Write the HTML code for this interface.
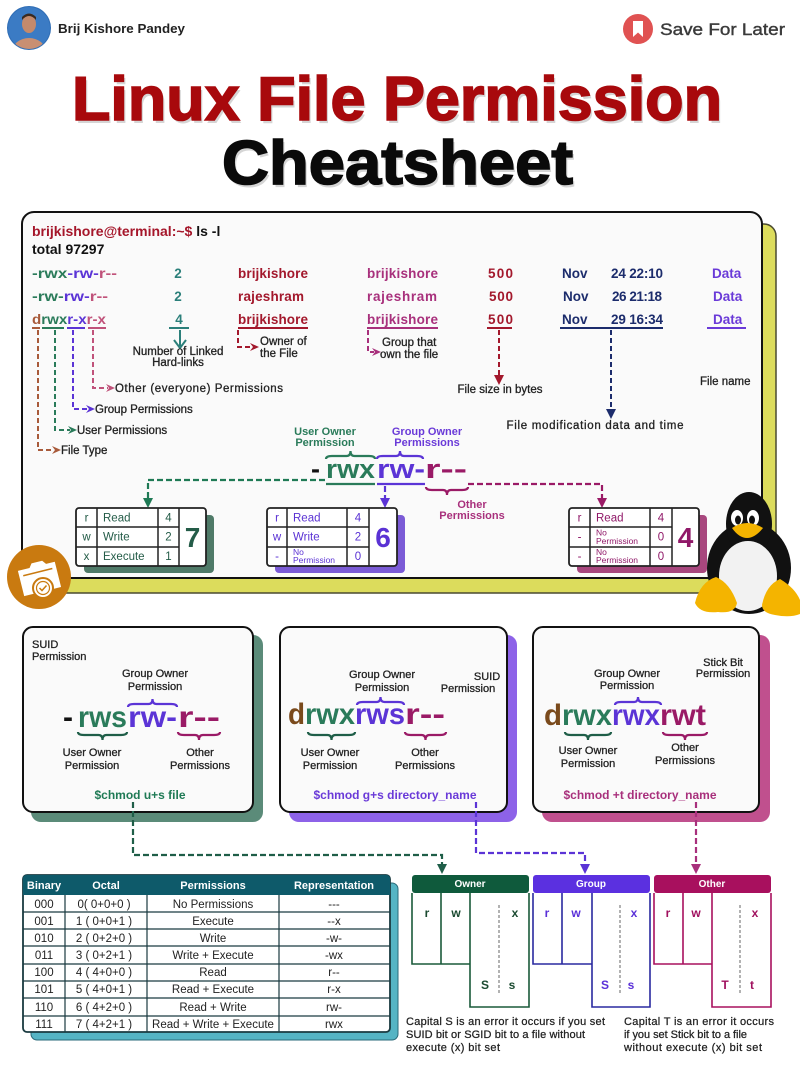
<!DOCTYPE html>
<html><head><meta charset="utf-8"><style>html,body{margin:0;padding:0;background:#fff}svg{display:block}</style></head>
<body>
<svg width="800" height="1067" viewBox="0 0 800 1067" xmlns="http://www.w3.org/2000/svg" font-family="'Liberation Sans', sans-serif">
<rect width="800" height="1067" fill="#ffffff"/>

<!-- Header -->
<circle cx="29" cy="28" r="22" fill="#2f6db5"/>
<clipPath id="av"><circle cx="29" cy="28" r="21"/></clipPath>
<g clip-path="url(#av)">
<rect x="7" y="6" width="44" height="44" fill="#3b7bc4"/>
<ellipse cx="29" cy="52" rx="17" ry="14" fill="#c98f72"/>
<ellipse cx="29" cy="24" rx="7" ry="9" fill="#c48a6c"/>
<path d="M22 20 Q29 12 36 20 L36 17 Q29 10 22 17 Z" fill="#3a2a20"/>
</g>
<text x="58" y="33" font-size="13" font-weight="bold" fill="#222" textLength="127" lengthAdjust="spacingAndGlyphs">Brij Kishore Pandey</text>
<circle cx="638" cy="29" r="15" fill="#e05252"/>
<path d="M633 21 H643 V37 L638 32.5 L633 37 Z" fill="#fff"/>
<text x="660" y="35" font-size="17" fill="#3a3a3a" stroke="#3a3a3a" stroke-width="0.4" textLength="125" lengthAdjust="spacingAndGlyphs">Save For Later</text>

<!-- Title -->
<text x="74" y="123" font-size="62" font-weight="bold" fill="#888" opacity="0.35" textLength="650" lengthAdjust="spacingAndGlyphs">Linux File Permission</text>
<text x="72" y="120" font-size="62" font-weight="bold" fill="#a8090c" stroke="#a8090c" stroke-width="1.6" textLength="650" lengthAdjust="spacingAndGlyphs">Linux File Permission</text>
<text x="224" y="187" font-size="62" font-weight="bold" fill="#888" opacity="0.35" textLength="351" lengthAdjust="spacingAndGlyphs">Cheatsheet</text>
<text x="222" y="184" font-size="62" font-weight="bold" fill="#0a0a0a" stroke="#0a0a0a" stroke-width="1.6" textLength="351" lengthAdjust="spacingAndGlyphs">Cheatsheet</text>

<!-- Terminal box -->
<rect x="34" y="224" width="742" height="369" rx="12" fill="#dcdc5c" stroke="#4a4a30" stroke-width="1.5"/>
<rect x="22" y="212" width="740" height="366" rx="12" fill="#fafafa" stroke="#111" stroke-width="2"/>

<text x="32" y="236" font-size="14" font-weight="bold" fill="#a5162a">brijkishore@terminal:~$ <tspan fill="#111">ls -l</tspan></text>
<text x="32" y="254" font-size="14" font-weight="bold" fill="#111">total 97297</text>

<g font-size="13.5" font-weight="bold">
<text x="32" y="278" textLength="85" lengthAdjust="spacingAndGlyphs"><tspan fill="#2a7b5a">-rwx</tspan><tspan fill="#5b34d6">-rw-</tspan><tspan fill="#c0527a">r--</tspan></text>
<text x="32" y="301" textLength="76" lengthAdjust="spacingAndGlyphs"><tspan fill="#2a7b5a">-rw-</tspan><tspan fill="#5b34d6">rw-</tspan><tspan fill="#c0527a">r--</tspan></text>
<text x="32" y="324" textLength="74" lengthAdjust="spacingAndGlyphs"><tspan fill="#a85a3a">d</tspan><tspan fill="#2a7b5a">rwx</tspan><tspan fill="#5b34d6">r-x</tspan><tspan fill="#c0527a">r-x</tspan></text>
<g fill="#2b7f7a" text-anchor="middle"><text x="178" y="278">2</text><text x="178" y="301">2</text><text x="179" y="324">4</text></g>
<g fill="#a3182c"><text x="238" y="278" textLength="70">brijkishore</text><text x="238" y="301" textLength="66">rajeshram</text><text x="238" y="324" textLength="70">brijkishore</text></g>
<g fill="#a8307c"><text x="367" y="278" textLength="71">brijkishore</text><text x="367" y="301" textLength="70">rajeshram</text><text x="367" y="324" textLength="71">brijkishore</text></g>
<g fill="#a3182c"><text x="488" y="278" textLength="25">500</text><text x="489" y="301" textLength="24">500</text><text x="488" y="324" textLength="25">500</text></g>
<g fill="#1c2c6c"><text x="562" y="278">Nov</text><text x="563" y="301">Nov</text><text x="562" y="324">Nov</text>
<text x="611" y="278" textLength="52">24 22:10</text><text x="612" y="301" textLength="50">26 21:18</text><text x="611" y="324" textLength="52">29 16:34</text></g>
<g fill="#6a3ad8"><text x="712" y="278">Data</text><text x="713" y="301">Data</text><text x="713" y="324">Data</text></g>
</g>

<!-- underlines -->
<g stroke-width="2" fill="none">
<path d="M32 328 H40" stroke="#a85a3a"/>
<path d="M42 328 H64" stroke="#2a7b5a"/>
<path d="M67 328 H85" stroke="#5b34d6"/>
<path d="M88 328 H106" stroke="#c0527a"/>
<path d="M169 328 H189" stroke="#2b7f7a"/>
<path d="M238 328 H308" stroke="#a3182c"/>
<path d="M367 328 H438" stroke="#a8307c"/>
<path d="M487 328 H512" stroke="#a3182c"/>
<path d="M560 328 H663" stroke="#1c2c6c"/>
<path d="M707 328 H746" stroke="#6a3ad8"/>
</g>
<!-- dashed connectors -->
<g stroke-width="2" fill="none" stroke-dasharray="5 3">
<path d="M38 330 V450 H54" stroke="#a85a3a"/>
<path d="M55 330 V430 H70" stroke="#2a7b5a"/>
<path d="M73 330 V409 H88" stroke="#5b34d6"/>
<path d="M93 330 V388 H108" stroke="#c0527a"/>
<path d="M238 330 V347 H252" stroke="#a3182c"/>
<path d="M368 330 V352 H374" stroke="#a8307c"/>
<path d="M499 330 V376" stroke="#a3182c"/>
<path d="M611 330 V410" stroke="#1c2c6c"/>
</g>
<path d="M180 330 V346" stroke="#2b7f7a" stroke-width="2"/>
<path d="M174 340 L180 348 L186 340" stroke="#2b7f7a" stroke-width="2" fill="none"/>
<polygon points="52,446 61,450 52,454 55,450" fill="#a85a3a"/>
<polygon points="68,426 77,430 68,434 71,430" fill="#2a7b5a"/>
<polygon points="86,405 95,409 86,413 89,409" fill="#5b34d6"/>
<polygon points="106,384 115,388 106,392 109,388" fill="#c0527a"/>
<polygon points="250,343 259,347 250,351 253,347" fill="#a3182c"/>
<polygon points="372,348 381,352 372,356 375,352" fill="#a8307c"/>
<polygon points="494,375 504,375 499,385" fill="#a3182c"/>
<polygon points="606,409 616,409 611,419" fill="#1c2c6c"/>

<g font-size="11.5" fill="#222" stroke="#222" stroke-width="0.3">
<text x="61" y="454">File Type</text>
<text x="77" y="434">User Permissions</text>
<text x="95" y="413">Group Permissions</text>
<text x="115" y="392" textLength="168">Other (everyone) Permissions</text>
<text x="178" y="355" text-anchor="middle">Number of Linked</text>
<text x="178" y="366" text-anchor="middle">Hard-links</text>
<text x="260" y="345">Owner of</text>
<text x="260" y="357">the File</text>
<text x="382" y="346">Group that</text>
<text x="380" y="358">own the file</text>
<text x="500" y="393" text-anchor="middle">File size in bytes</text>
<text x="595" y="429" text-anchor="middle" textLength="177">File modification data and time</text>
<text x="700" y="385">File name</text>
</g>

<!-- big -rwxrw-r-- -->
<g font-size="11" font-weight="bold" text-anchor="middle">
<text x="325" y="435" fill="#2a7b5a">User Owner</text>
<text x="325" y="446" fill="#2a7b5a">Permission</text>
<text x="427" y="435" fill="#6a3ad8">Group Owner</text>
<text x="427" y="446" fill="#6a3ad8">Permissions</text>
<text x="472" y="508" fill="#a8307c">Other</text>
<text x="472" y="519" fill="#a8307c">Permissions</text>
</g>
<g font-size="27" font-weight="bold">
<text x="311" y="478" fill="#111">-</text>
<text x="326" y="478" fill="#2a7b5a" textLength="49" lengthAdjust="spacingAndGlyphs">rwx</text>
<text x="377" y="478" fill="#5b34d6" textLength="48" lengthAdjust="spacingAndGlyphs">rw-</text>
<text x="425" y="478" fill="#9a1a66" textLength="42" lengthAdjust="spacingAndGlyphs">r--</text>
</g>
<g fill="none" stroke-width="2.2">
<path d="M326 459 Q326 456 332 456 H346.5 Q350.5 456 350.5 451 Q350.5 456 354.5 456 H369 Q375 456 375 459" stroke="#2a7b5a"/>
<path d="M377 459 Q377 456 383 456 H396 Q400 456 400 451 Q400 456 404 456 H417 Q423 456 423 459" stroke="#5b34d6"/>
<path d="M426 487 Q426 490 432 490 H443 Q447 490 447 495 Q447 490 451 490 H462 Q468 490 468 487" stroke="#9a1a66"/>
<path d="M326 484 H375" stroke="#2a7b5a"/>
<path d="M377 484 H425" stroke="#5b34d6"/>
</g>
<g fill="none" stroke-width="2.2" stroke-dasharray="6 3">
<path d="M325 480 H148 V499" stroke="#1f7a55"/>
<path d="M385 486 V499" stroke="#5b34d6"/>
<path d="M468 484 H602 V499" stroke="#9a1a66"/>
</g>
<polygon points="143,498 153,498 148,508" fill="#1f7a55"/>
<polygon points="380,498 390,498 385,508" fill="#5b34d6"/>
<polygon points="597,498 607,498 602,508" fill="#9a1a66"/>

<!-- small tables -->
<rect x="84" y="515" width="130" height="58" rx="4" fill="#4f7a68"/>
<rect x="76" y="508" width="130" height="58" rx="3" fill="#fff" stroke="#222" stroke-width="1.8"/>
<path d="M97 508 V566 M158 508 V566 M179 508 V566 M76 527 H179 M76 547 H179" stroke="#222" stroke-width="1.5"/>
<g fill="#245c48" font-size="11.5">
<text x="86.5" y="521.5" text-anchor="middle">r</text><text x="86.5" y="540.5" text-anchor="middle">w</text><text x="86.5" y="560" text-anchor="middle">x</text>
<text x="103" y="521.5">Read</text><text x="103" y="540.5">Write</text><text x="103" y="560">Execute</text>
<text x="168.5" y="521.5" text-anchor="middle">4</text><text x="168.5" y="540.5" text-anchor="middle">2</text><text x="168.5" y="560" text-anchor="middle">1</text>
<text x="192.5" y="547" text-anchor="middle" font-size="28" font-weight="bold">7</text>
</g>

<rect x="275" y="515" width="130" height="58" rx="4" fill="#7b5bd6"/>
<rect x="267" y="508" width="130" height="58" rx="3" fill="#fff" stroke="#222" stroke-width="1.8"/>
<path d="M287 508 V566 M347 508 V566 M369 508 V566 M267 527 H369 M267 547 H369" stroke="#222" stroke-width="1.5"/>
<g fill="#5a32d4" font-size="11.5">
<text x="277" y="521.5" text-anchor="middle">r</text><text x="277" y="540.5" text-anchor="middle">w</text><text x="277" y="560" text-anchor="middle">-</text>
<text x="293" y="521.5">Read</text><text x="293" y="540.5">Write</text>
<text x="293" y="555" font-size="8.5">No</text><text x="293" y="563" font-size="8.5">Permission</text>
<text x="358" y="521.5" text-anchor="middle">4</text><text x="358" y="540.5" text-anchor="middle">2</text><text x="358" y="560" text-anchor="middle">0</text>
<text x="383" y="547" text-anchor="middle" font-size="28" font-weight="bold">6</text>
</g>

<rect x="577" y="515" width="130" height="58" rx="4" fill="#a8477e"/>
<rect x="569" y="508" width="130" height="58" rx="3" fill="#fff" stroke="#222" stroke-width="1.8"/>
<path d="M590 508 V566 M650 508 V566 M672 508 V566 M569 527 H672 M569 547 H672" stroke="#222" stroke-width="1.5"/>
<g fill="#901868" font-size="11.5">
<text x="579.5" y="521.5" text-anchor="middle">r</text><text x="579.5" y="540.5" text-anchor="middle">-</text><text x="579.5" y="560" text-anchor="middle">-</text>
<text x="596" y="521.5">Read</text>
<text x="596" y="535.5" font-size="8.5">No</text><text x="596" y="544" font-size="8.5">Permission</text>
<text x="596" y="555" font-size="8.5">No</text><text x="596" y="563" font-size="8.5">Permission</text>
<text x="661" y="521.5" text-anchor="middle">4</text><text x="661" y="540.5" text-anchor="middle">0</text><text x="661" y="560" text-anchor="middle">0</text>
<text x="685.5" y="547" text-anchor="middle" font-size="28" font-weight="bold">4</text>
</g>

<!-- camera icon -->
<circle cx="39" cy="577" r="32" fill="#c97a10"/>
<g transform="rotate(-14 39 577)">
<path d="M20 566 H32 L35 562 H46 L49 566 H58 V592 H20 Z" fill="#fff"/>
<path d="M24 572 H54" stroke="#c97a10" stroke-width="1.5"/>
</g>
<circle cx="43" cy="588" r="10" fill="#fff" stroke="#c97a10" stroke-width="2"/>
<circle cx="43" cy="588" r="6.5" fill="none" stroke="#c97a10" stroke-width="1.2"/>
<path d="M39.5 588 L42 590.5 L46.5 585.5" fill="none" stroke="#c97a10" stroke-width="1.5"/>

<!-- penguin -->
<ellipse cx="749" cy="568" rx="42" ry="46" fill="#111"/>
<ellipse cx="749" cy="524" rx="23" ry="32" fill="#111"/>
<ellipse cx="748" cy="576" rx="29" ry="35" fill="#f2f2f2"/>
<ellipse cx="737" cy="518" rx="6" ry="8" fill="#fff"/>
<ellipse cx="753" cy="518" rx="6" ry="8" fill="#fff"/>
<ellipse cx="738" cy="520" rx="3" ry="4.5" fill="#111"/>
<ellipse cx="752" cy="520" rx="3" ry="4.5" fill="#111"/>
<path d="M732 528 Q747 518 763 528 Q755 538 747 538 Q739 538 732 528 Z" fill="#f4b400"/>
<path d="M695 603 Q700 582 716 577 Q730 583 737 603 Q735 614 718 612 Q700 614 695 603 Z" fill="#f4b400"/>
<path d="M762 605 Q766 585 780 579 Q795 588 800 600 V614 Q790 618 775 615 Q762 613 762 605 Z" fill="#f4b400"/>

<!-- panels -->
<rect x="31" y="635" width="232" height="187" rx="10" fill="#5b8b79"/>
<rect x="23" y="627" width="230" height="185" rx="10" fill="#fafafa" stroke="#111" stroke-width="2"/>
<rect x="289" y="635" width="228" height="187" rx="10" fill="#8d62e8"/>
<rect x="280" y="627" width="227" height="185" rx="10" fill="#fafafa" stroke="#111" stroke-width="2"/>
<rect x="542" y="635" width="228" height="187" rx="10" fill="#c0508e"/>
<rect x="533" y="627" width="226" height="185" rx="10" fill="#fafafa" stroke="#111" stroke-width="2"/>

<g font-size="11" fill="#222" stroke="#222" stroke-width="0.3">
<text x="32" y="648">SUID</text><text x="32" y="660">Permission</text>
<g text-anchor="middle">
<text x="155" y="677">Group Owner</text><text x="155" y="690">Permission</text>
<text x="92" y="756">User Owner</text><text x="92" y="769">Permission</text>
<text x="200" y="756">Other</text><text x="200" y="769">Permissions</text>

<text x="382" y="678">Group Owner</text><text x="382" y="691">Permission</text>
<text x="487" y="680">SUID</text><text x="468" y="692">Permission</text>
<text x="330" y="756">User Owner</text><text x="330" y="769">Permission</text>
<text x="425" y="756">Other</text><text x="425" y="769">Permissions</text>

<text x="723" y="666">Stick Bit</text><text x="723" y="677">Permission</text>
<text x="627" y="677">Group Owner</text><text x="627" y="689">Permission</text>
<text x="588" y="754">User Owner</text><text x="588" y="767">Permission</text>
<text x="685" y="751">Other</text><text x="685" y="764">Permissions</text>
</g>
</g>

<g font-size="30" font-weight="bold">
<text x="63" y="727" fill="#111">-</text>
<text x="78" y="727" fill="#2a7b5a" textLength="49" lengthAdjust="spacingAndGlyphs">rws</text>
<text x="128" y="727" fill="#5b34d6" textLength="49" lengthAdjust="spacingAndGlyphs">rw-</text>
<text x="178" y="727" fill="#9a1a66" textLength="42" lengthAdjust="spacingAndGlyphs">r--</text>

<text x="288" y="724" fill="#7a4a1c" textLength="17" lengthAdjust="spacingAndGlyphs">d</text>
<text x="305" y="724" fill="#2a7b5a" textLength="50" lengthAdjust="spacingAndGlyphs">rwx</text>
<text x="355" y="724" fill="#5b34d6" textLength="50" lengthAdjust="spacingAndGlyphs">rws</text>
<text x="405" y="724" fill="#9a1a66" textLength="40" lengthAdjust="spacingAndGlyphs">r--</text>

<text x="544" y="725" fill="#7a4a1c" textLength="18" lengthAdjust="spacingAndGlyphs">d</text>
<text x="562" y="725" fill="#2a7b5a" textLength="50" lengthAdjust="spacingAndGlyphs">rwx</text>
<text x="612" y="725" fill="#5b34d6" textLength="48" lengthAdjust="spacingAndGlyphs">rwx</text>
<text x="660" y="725" fill="#9a1a66" textLength="46" lengthAdjust="spacingAndGlyphs">rwt</text>
</g>

<g fill="none" stroke-width="2.2">
<path d="M128 707 Q128 704 134 704 H148.5 Q152.5 704 152.5 699 Q152.5 704 156.5 704 H171 Q177 704 177 707" stroke="#5b34d6"/>
<path d="M78 732 Q78 735 84 735 H98.5 Q102.5 735 102.5 740 Q102.5 735 106.5 735 H121 Q127 735 127 732" stroke="#1f5e48"/>
<path d="M178 732 Q178 735 184 735 H195 Q199 735 199 740 Q199 735 203 735 H214 Q220 735 220 732" stroke="#9a1a66"/>

<path d="M357 705 Q357 702 363 702 H376.5 Q380.5 702 380.5 697 Q380.5 702 384.5 702 H398 Q404 702 404 705" stroke="#5b34d6"/>
<path d="M308 732 Q308 735 314 735 H327.5 Q331.5 735 331.5 740 Q331.5 735 335.5 735 H349 Q355 735 355 732" stroke="#1f5e48"/>
<path d="M405 732 Q405 735 411 735 H421.5 Q425.5 735 425.5 740 Q425.5 735 429.5 735 H440 Q446 735 446 732" stroke="#9a1a66"/>

<path d="M615 705 Q615 702 621 702 H634 Q638 702 638 697 Q638 702 642 702 H655 Q661 702 661 705" stroke="#5b34d6"/>
<path d="M565 732 Q565 735 571 735 H584 Q588 735 588 740 Q588 735 592 735 H605 Q611 735 611 732" stroke="#1f5e48"/>
<path d="M663 732 Q663 735 669 735 H681 Q685 735 685 740 Q685 735 689 735 H701 Q707 735 707 732" stroke="#9a1a66"/>
</g>

<g font-size="12" font-weight="bold" text-anchor="middle">
<text x="140" y="799" fill="#1f7a55">$chmod u+s file</text>
<text x="395" y="799" fill="#6a3ad8">$chmod g+s directory_name</text>
<text x="640" y="799" fill="#a8307c">$chmod +t directory_name</text>
</g>

<!-- connectors to bottom -->
<g fill="none" stroke-width="2.2" stroke-dasharray="6 3">
<path d="M133 802 V855 H442 V865" stroke="#1f5e48"/>
<path d="M476 802 V853 H585 V865" stroke="#5b34d6"/>
<path d="M696 802 V865" stroke="#a8307c"/>
</g>
<polygon points="437,864 447,864 442,874" fill="#1f5e48"/>
<polygon points="580,864 590,864 585,874" fill="#5b34d6"/>
<polygon points="691,864 701,864 696,874" fill="#a8307c"/>

<!-- Bottom table -->
<rect x="31" y="883" width="367" height="157" rx="6" fill="#55b4c4" stroke="#2a6a78" stroke-width="1"/>
<rect x="23" y="875" width="367" height="157" rx="4" fill="#fff" stroke="#1a3a40" stroke-width="1.8"/>
<path d="M27 875 H386 Q390 875 390 879 V895 H23 V879 Q23 875 27 875 Z" fill="#0e5a6a"/>
<path d="M65 895 V1032 M147 895 V1032 M279 895 V1032" stroke="#1a3a40" stroke-width="1.2"/>
<path d="M23 912 H390 M23 929 H390 M23 946 H390 M23 964 H390 M23 981 H390 M23 998 H390 M23 1016 H390" stroke="#1a3a40" stroke-width="1.2"/>
<g font-size="11" font-weight="bold" fill="#fff" text-anchor="middle">
<text x="44" y="889">Binary</text><text x="106" y="889">Octal</text><text x="213" y="889">Permissions</text><text x="334" y="889">Representation</text>
</g>
<g font-size="11.5" fill="#222" text-anchor="middle">
<text x="44" y="908">000</text><text x="104" y="908">0( 0+0+0 )</text><text x="213" y="908">No Permissions</text><text x="334" y="908">---</text>
<text x="44" y="925">001</text><text x="104" y="925">1 ( 0+0+1 )</text><text x="213" y="925">Execute</text><text x="334" y="925">--x</text>
<text x="44" y="942">010</text><text x="104" y="942">2 ( 0+2+0 )</text><text x="213" y="942">Write</text><text x="334" y="942">-w-</text>
<text x="44" y="959">011</text><text x="104" y="959">3 ( 0+2+1 )</text><text x="213" y="959">Write + Execute</text><text x="334" y="959">-wx</text>
<text x="44" y="976">100</text><text x="104" y="976">4 ( 4+0+0 )</text><text x="213" y="976">Read</text><text x="334" y="976">r--</text>
<text x="44" y="993">101</text><text x="104" y="993">5 ( 4+0+1 )</text><text x="213" y="993">Read + Execute</text><text x="334" y="993">r-x</text>
<text x="44" y="1011">110</text><text x="104" y="1011">6 ( 4+2+0 )</text><text x="213" y="1011">Read + Write</text><text x="334" y="1011">rw-</text>
<text x="44" y="1028">111</text><text x="104" y="1028">7 ( 4+2+1 )</text><text x="213" y="1028">Read + Write + Execute</text><text x="334" y="1028">rwx</text>
</g>

<!-- Owner / Group / Other -->
<rect x="412" y="875" width="117" height="18" rx="3" fill="#0f5a3c"/>
<rect x="533" y="875" width="117" height="18" rx="3" fill="#5b30e0"/>
<rect x="654" y="875" width="117" height="18" rx="3" fill="#a8105e"/>
<g font-size="10" font-weight="bold" fill="#fff" text-anchor="middle">
<text x="470" y="887">Owner</text><text x="591" y="887">Group</text><text x="712" y="887">Other</text>
</g>
<g fill="none" stroke-width="1.6">
<path d="M412 893 V964 H470 M441 893 V964 M470 893 V1007 H529 V893" stroke="#1a5a3a"/>
<path d="M533 893 V964 H592 M562 893 V964 M592 893 V1007 H650 V893" stroke="#2a2aa0"/>
<path d="M654 893 V964 H712 M683 893 V964 M712 893 V1007 H771 V893" stroke="#a8105e"/>
</g>
<g stroke="#666" stroke-width="1" stroke-dasharray="3 2">
<path d="M499 905 V995"/><path d="M620 905 V995"/><path d="M740 905 V995"/>
</g>
<g font-size="12" font-weight="bold" text-anchor="middle">
<g fill="#1a4a30"><text x="427" y="917">r</text><text x="456" y="917">w</text><text x="515" y="917">x</text><text x="485" y="989">S</text><text x="512" y="989">s</text></g>
<g fill="#5a30d8"><text x="547" y="917">r</text><text x="576" y="917">w</text><text x="634" y="917">x</text><text x="605" y="989">S</text><text x="631" y="989">s</text></g>
<g fill="#a0105e"><text x="668" y="917">r</text><text x="696" y="917">w</text><text x="755" y="917">x</text><text x="725" y="989">T</text><text x="752" y="989">t</text></g>
</g>
<g font-size="11" fill="#222" stroke="#222" stroke-width="0.25">
<text x="406" y="1025" textLength="199">Capital S is an error it occurs if you set</text>
<text x="406" y="1038" textLength="179">SUID bit or SGID bit to a file without</text>
<text x="406" y="1051" textLength="94">execute (x) bit set</text>
<text x="624" y="1025" textLength="150">Capital T is an error it occurs</text>
<text x="624" y="1038" textLength="123">if you set Stick bit to a file</text>
<text x="624" y="1051" textLength="138">without execute (x) bit set</text>
</g>
</svg>
</body></html>
